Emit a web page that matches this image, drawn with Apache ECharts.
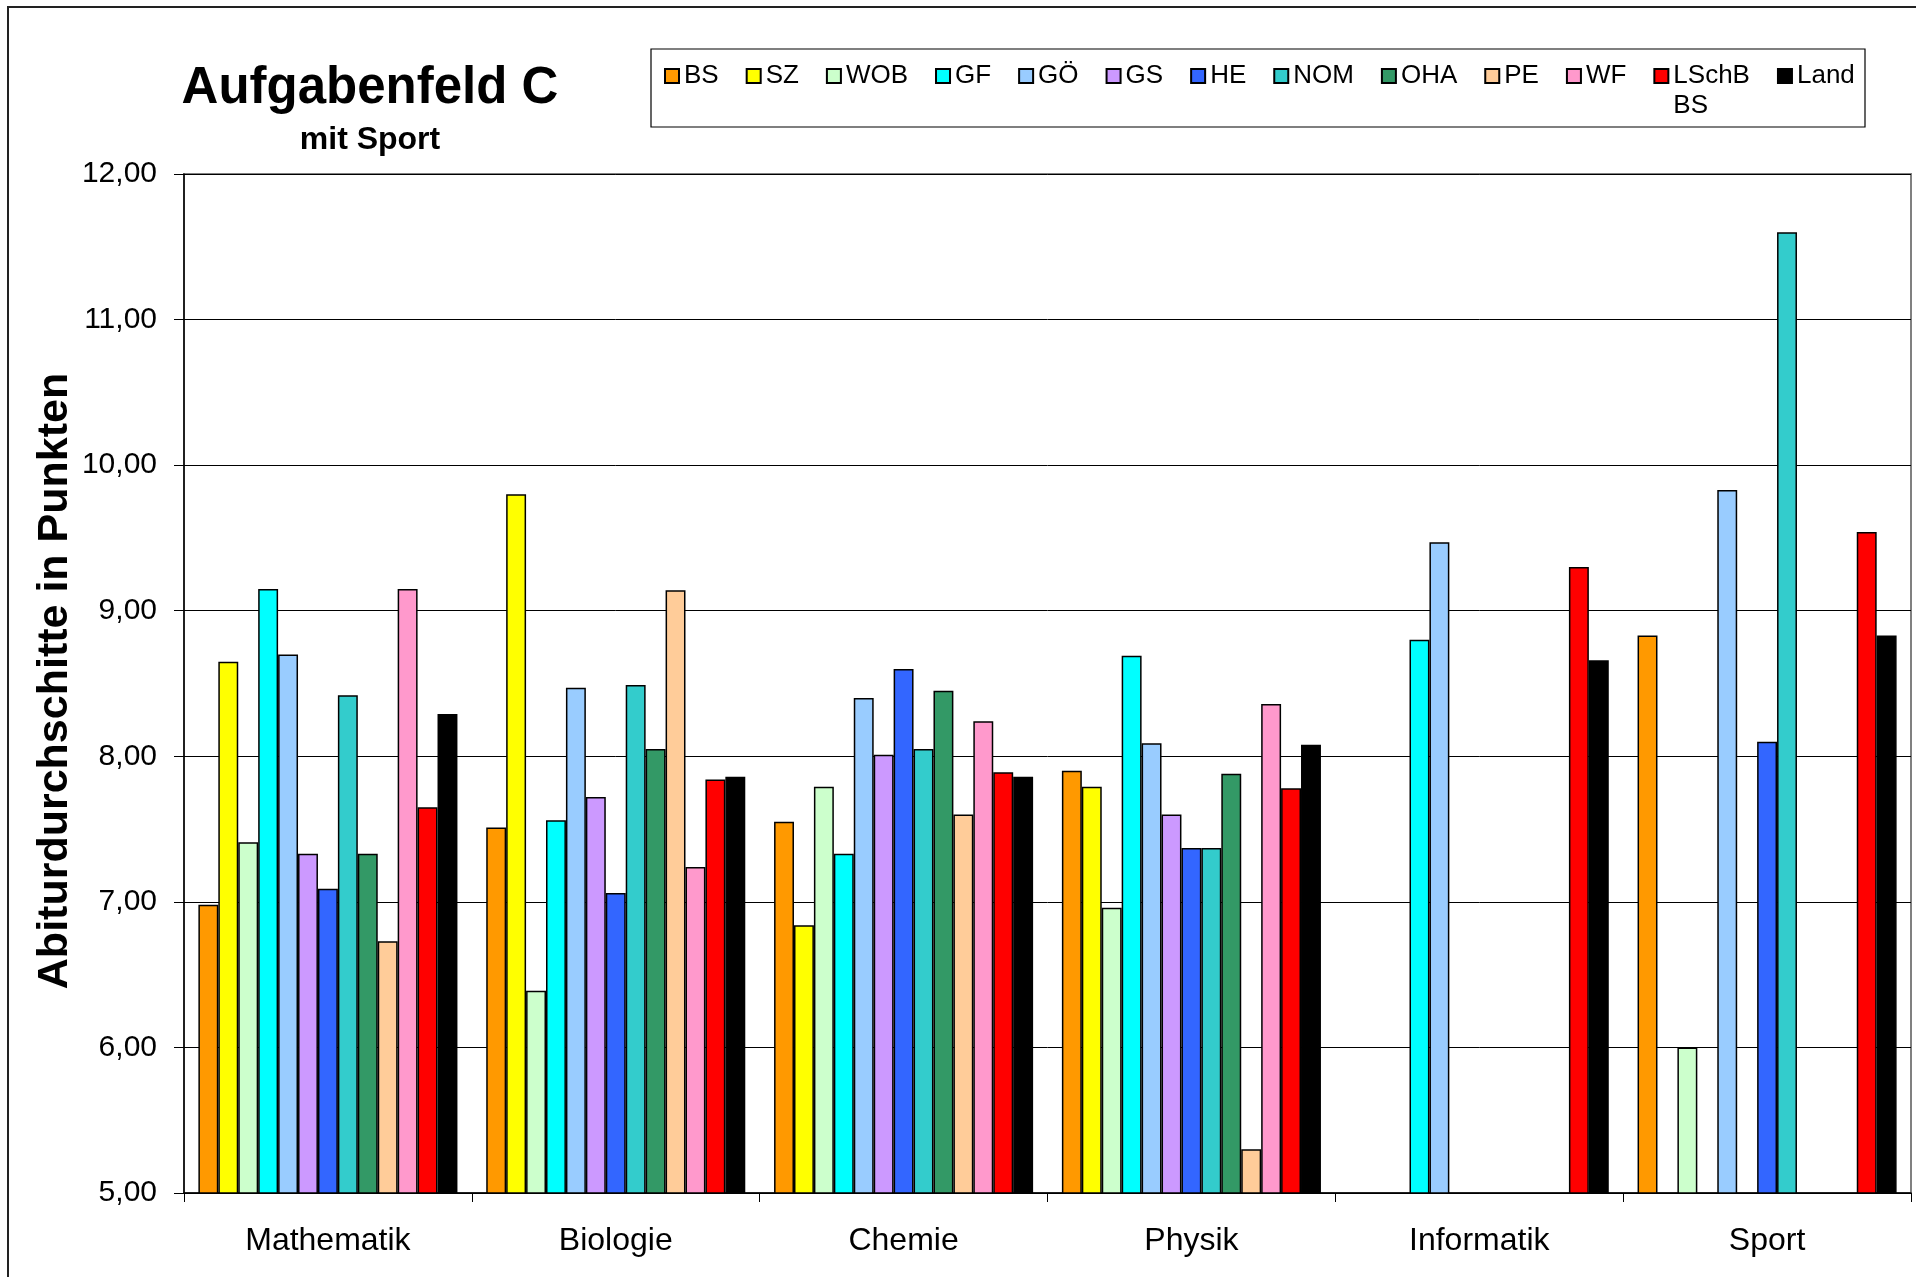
<!DOCTYPE html>
<html>
<head>
<meta charset="utf-8">
<script src="https://cdn.jsdelivr.net/npm/echarts@6/dist/echarts.min.js"></script>
<style>
html,body{margin:0;padding:0;background:#fff;}
#chart{width:1916px;height:1277px;}
</style>
</head>
<body>
<div id="chart"></div>
<script>
// ---- data ----
const categories = ['Mathematik', 'Biologie', 'Chemie', 'Physik', 'Informatik', 'Sport'];
const seriesNames = ['BS', 'SZ', 'WOB', 'GF', 'GÖ', 'GS', 'HE', 'NOM', 'OHA', 'PE', 'WF', 'LSchB BS', 'Land'];
const BS    = [6.98, 7.51, 7.55, 7.90, null, 8.83];
const SZ    = [8.65, 9.80, 6.84, 7.79, null, null];
const WOB   = [7.41, 6.39, 7.79, 6.96, null, 6.00];
const GF    = [9.15, 7.56, 7.33, 8.69, 8.80, null];
const GOE   = [8.70, 8.47, 8.40, 8.09, 9.47, 9.83];
const GS    = [7.33, 7.72, 8.01, 7.60, null, null];
const HE    = [7.09, 7.06, 8.60, 7.37, null, 8.10];
const NOM   = [8.42, 8.49, 8.05, 7.37, null, 11.60];
const OHA   = [7.33, 8.05, 8.45, 7.88, null, null];
const PE    = [6.73, 9.14, 7.60, 5.30, null, null];
const WF    = [9.15, 7.24, 8.24, 8.36, null, null];
const LSCHB = [7.65, 7.84, 7.89, 7.78, 9.30, 9.54];
const LAND  = [8.29, 7.86, 7.86, 8.08, 8.66, 8.83];
const yTicks = [5, 6, 7, 8, 9, 10, 11, 12];
const titleText = 'Aufgabenfeld C';
const subtitleText = 'mit Sport';
const yAxisTitle = 'Abiturdurchschitte in Punkten';

// ---- styles ----
const colors = ['#FF9900', '#FFFF00', '#CCFFCC', '#00FFFF', '#99CCFF', '#CC99FF', '#3366FF',
                '#33CCCC', '#339966', '#FFCC99', '#FF99CC', '#FF0000', '#000000'];
const values = [BS, SZ, WOB, GF, GOE, GS, HE, NOM, OHA, PE, WF, LSCHB, LAND];
const FONT = "'Liberation Sans', Arial, Helvetica, sans-serif";

const series = seriesNames.map((name, i) => ({
  name: name,
  type: 'bar',
  data: values[i],
  barGap: '0%',
  barCategoryGap: '10%',
  itemStyle: { color: colors[i], borderColor: '#000', borderWidth: 1.5 }
}));

const chart = echarts.init(document.getElementById('chart'), null, { renderer: 'canvas' });
chart.setOption({
  animation: false,
  backgroundColor: '#fff',
  textStyle: { fontFamily: FONT, color: '#000' },
  title: {
    text: titleText,
    subtext: subtitleText,
    left: 370,
    top: 63,
    textAlign: 'center',
    padding: 0,
    itemGap: 10,
    textStyle: { fontFamily: FONT, fontSize: 51, fontWeight: 'bold', color: '#000' },
    subtextStyle: { fontFamily: FONT, fontSize: 32, fontWeight: 'bold', color: '#000' }
  },
  legend: {
    data: seriesNames,
    left: 664,
    top: 31,
    padding: 0,
    icon: 'rect',
    itemWidth: 14,
    itemHeight: 14,
    itemGap: 27,
    formatter: n => n === 'LSchB BS' ? ' \nLSchB\nBS' : n,
    textStyle: { fontFamily: FONT, fontSize: 26, color: '#000', lineHeight: 30 }
  },
  grid: {
    left: 184, right: 5, top: 174, bottom: 84,
    show: true, borderColor: '#808080', borderWidth: 2, backgroundColor: 'transparent'
  },
  xAxis: {
    type: 'category',
    data: categories,
    axisLine: { lineStyle: { color: '#000', width: 1.5 } },
    axisTick: { show: true, length: 9, lineStyle: { color: '#000', width: 1 } },
    axisLabel: { interval: 0, fontFamily: FONT, fontSize: 32, color: '#000', margin: 32 },
    splitLine: { show: false }
  },
  yAxis: {
    type: 'value',
    min: yTicks[0],
    max: yTicks[yTicks.length - 1],
    interval: 1,
    axisLine: { show: true, lineStyle: { color: '#000', width: 1.5 } },
    axisTick: { show: true, length: 10, lineStyle: { color: '#000', width: 1 } },
    axisLabel: {
      fontFamily: FONT, fontSize: 30, color: '#000', margin: 27,
      formatter: v => v.toFixed(2).replace('.', ',')
    },
    splitLine: { show: true, lineStyle: { color: '#000', width: 1 } }
  },
  graphic: [
    { type: 'rect', z: -10, silent: true,
      shape: { x: 8, y: 7, width: 2000, height: 2000 },
      style: { fill: 'none', stroke: '#222', lineWidth: 2 } },
    { type: 'rect', z: -5, silent: true,
      shape: { x: 651, y: 49, width: 1214, height: 78 },
      style: { fill: '#fff', stroke: '#000', lineWidth: 1.2 } },
    { type: 'text', silent: true, x: 55, y: 681, rotation: Math.PI / 2,
      style: { text: yAxisTitle, font: "bold 43px 'Liberation Sans', Arial, sans-serif",
               fill: '#000', align: 'center', verticalAlign: 'middle',
               textAlign: 'center', textVerticalAlign: 'middle' } }
  ],
  series: series
});
</script>
</body>
</html>
